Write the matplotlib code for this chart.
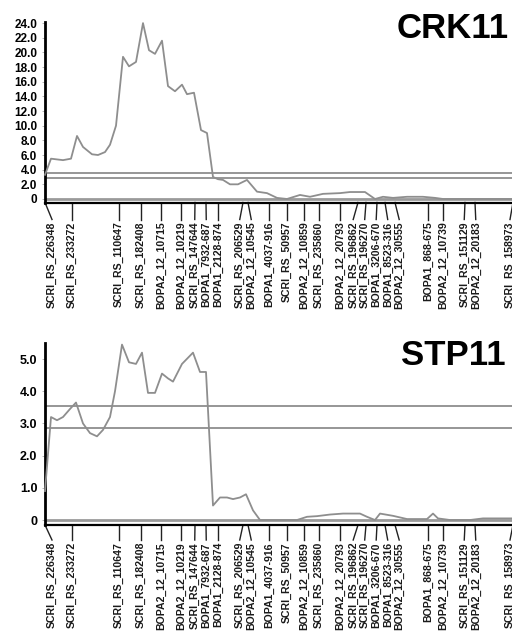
import matplotlib
matplotlib.use('Agg')
import matplotlib.pyplot as plt
import numpy as np

plt.rcParams['font.family'] = ['Liberation Sans', 'DejaVu Sans']

# marker map (cM) and names
marker_names = ['SCRI_RS_226348', 'SCRI_RS_233272', 'SCRI_RS_110647', 'SCRI_RS_182408',
                'BOPA2_12_10715', 'BOPA2_12_10219', 'SCRI_RS_147644', 'BOPA1_7932-687',
                'BOPA1_2128-874', 'SCRI_RS_206529', 'BOPA2_12_10545', 'BOPA1_4037-916',
                'SCRI_RS_50957', 'BOPA2_12_10859', 'SCRI_RS_235860', 'BOPA2_12_20793',
                'SCRI_RS_196862', 'SCRI_RS_196270', 'BOPA1_3206-670', 'BOPA1_8523-316',
                'BOPA2_12_30555', 'BOPA1_868-675', 'BOPA2_12_10739', 'SCRI_RS_151129',
                'BOPA2_12_20183', 'SCRI_RS_158973']
marker_cm = [0.0, 8.1, 22.2, 28.8, 34.8, 40.8, 45.0, 48.3, 51.9, 59.4, 60.9, 67.2, 72.6,
             77.7, 82.2, 88.5, 93.9, 96.3, 99.6, 102.0, 105.0, 114.9, 119.4, 126.0, 129.0,
             140.4]

# CRK11 LOD profile
crk_cm = [0.0, 1.8, 5.4, 7.8, 9.6, 11.4, 14.1, 15.9, 18.0, 19.5, 21.3, 23.4, 25.2, 27.3,
          29.4, 31.2, 33.0, 35.1, 36.9, 39.0, 41.1, 42.6, 44.7, 46.8, 48.6, 50.4, 51.9,
          53.4, 55.5, 57.9, 60.6, 63.6, 66.6, 69.6, 72.6, 76.5, 79.5, 83.4, 88.5, 91.5,
          96.0, 99.0, 101.4, 104.4, 108.6, 113.4, 117.0, 119.4, 127.5, 140.1]
crk_lod = [3.3, 5.5, 5.3, 5.5, 8.6, 7.1, 6.1, 6.0, 6.4, 7.4, 10.0, 19.4, 18.1, 18.7, 24.0,
           20.3, 19.8, 21.6, 15.4, 14.7, 15.6, 14.3, 14.5, 9.4, 9.0, 3.0, 2.7, 2.6, 2.0,
           2.0, 2.6, 1.0, 0.8, 0.15, 0.0, 0.55, 0.3, 0.7, 0.8, 0.95, 0.95, 0.0, 0.3, 0.15,
           0.3, 0.3, 0.15, 0.0, 0.0, 0.0]

# STP11 LOD profile
stp_cm = [0.0, 1.8, 3.6, 5.4, 7.5, 9.3, 11.4, 13.5, 15.6, 17.4, 19.5, 21.0, 23.1, 25.2,
          27.3, 29.1, 30.9, 33.0, 35.1, 36.9, 38.4, 41.1, 44.4, 46.5, 48.3, 50.4, 52.5,
          54.6, 56.4, 58.5, 60.3, 62.4, 64.5, 68.1, 75.6, 78.6, 81.6, 85.5, 89.4, 94.5,
          96.6, 99.0, 100.5, 104.4, 108.6, 114.6, 116.4, 117.9, 121.5, 127.5, 131.4,
          133.5, 140.1]
stp_lod = [0.9, 3.2, 3.1, 3.2, 3.45, 3.65, 3.0, 2.7, 2.6, 2.8, 3.2, 4.0, 5.45, 4.9, 4.85,
           5.2, 3.95, 3.95, 4.55, 4.4, 4.3, 4.85, 5.2, 4.6, 4.6, 0.45, 0.7, 0.7, 0.65, 0.7,
           0.8, 0.3, 0.0, 0.0, 0.0, 0.1, 0.12, 0.17, 0.2, 0.2, 0.1, 0.0, 0.2, 0.13, 0.03,
           0.03, 0.2, 0.05, 0.0, 0.0, 0.05, 0.05, 0.05]

thresholds = [3.55, 2.87]
crk_ticks = [0, 2, 4, 6, 8, 10, 12, 14, 16, 18, 20, 22, 24]
crk_ticklabels = ['0', '2.0', '4.0', '6.0', '8.0', '10.0', '12.0', '14.0', '16.0',
                  '18.0', '20.0', '22.0', '24.0']
stp_ticks = [0, 1, 2, 3, 4, 5]
stp_ticklabels = ['0', '1.0', '2.0', '3.0', '4.0', '5.0']

XMAX = 140.1
W, H = 512, 636
GRAY = '#8e8e8e'


def spread(pos, gap, lo, hi):
    lab = np.array(pos, dtype=float)
    for _ in range(500):
        for i in range(len(lab) - 1):
            d = lab[i + 1] - lab[i]
            if d < gap:
                s = (gap - d) / 2
                lab[i] -= s
                lab[i + 1] += s
        lab[0] = max(lab[0], lo)
        lab[-1] = min(lab[-1], hi)
    return lab


def panel(fig, top_px, bot_px, ylim, x, y, ticks, ticklabels, title, title_px,
          tick_fs, conn_px, lab_px):
    ax = fig.add_axes([45 / W, 1 - bot_px / H, 1 - 45 / W, (bot_px - top_px) / H])
    ax.plot(x, y, color=GRAY, lw=1.3, clip_on=False, zorder=3)
    for t in thresholds:
        ax.axhline(t, color=GRAY, lw=1.3)
    ax.axhline(0, color='#9a9a9a', lw=2.0, zorder=2)
    ax.set_xlim(0, XMAX)
    ax.set_ylim(*ylim)
    for s in ['top', 'right']:
        ax.spines[s].set_visible(False)
    ax.spines['left'].set_linewidth(2.0)
    ax.spines['bottom'].set_linewidth(1.6)
    ax.set_xticks([])
    ax.set_yticks(ticks)
    ax.set_yticklabels(ticklabels, fontsize=tick_fs, fontweight='bold')
    ax.tick_params(axis='y', length=2, width=0.6, color='#aaaaaa', pad=3.5)

    hpx = bot_px - top_px
    labx = spread(marker_cm, 3.45, 2.1, XMAX - 0.6)
    tr = ax.get_xaxis_transform()
    for m, lx, name in zip(marker_cm, labx, marker_names):
        ax.plot([m, lx], [0, -conn_px / hpx], color='#222222', lw=1.0,
                transform=tr, clip_on=False)
        ax.text(lx, -lab_px / hpx, name, transform=tr, rotation=90, ha='center',
                va='top', fontsize=7.6, fontweight='bold', color='#1a1a1a')

    fig.text(title_px[0] / W, 1 - title_px[1] / H, title, ha='right', va='baseline',
             fontsize=25, fontweight='bold')
    return ax


fig = plt.figure(figsize=(W / 100, H / 100), dpi=100)
panel(fig, 22, 202.5, (-0.48, 24.15), crk_cm, crk_lod, crk_ticks, crk_ticklabels,
      'CRK11', (509, 38), 8.5, 17, 19)
panel(fig, 343, 525, (-0.155, 5.5), stp_cm, stp_lod, stp_ticks, stp_ticklabels,
      'STP11', (506, 365), 9, 15, 17)

fig.savefig('out.png', dpi=100)
